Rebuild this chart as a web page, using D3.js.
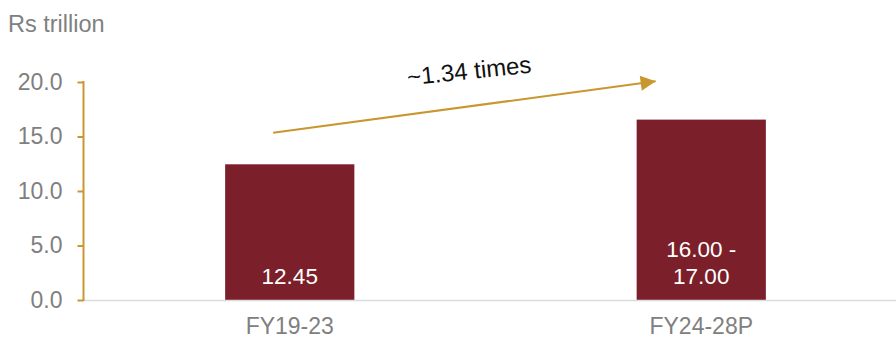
<!DOCTYPE html>
<html lang="en">
<head>
<meta charset="UTF-8">
<title>Rs trillion bar chart</title>
<script src="https://d3js.org/d3.v7.min.js"></script>
<style>
    body { margin: 0; background: #fff; }
    svg text { font-family: "Liberation Sans", Arial, sans-serif; }
    .tick-lbl { fill: #808080; font-size: 23px; }
</style>
</head>
<body>
<div id="chart"></div>
<script>
    // data
    var categories = ["FY19-23", "FY24-28P"];
    var values = [12.45, 16.55];
    var valueLabels = [["12.45"], ["16.00 -", "17.00"]];
    var yTicks = [0, 5, 10, 15, 20];
    var unitLabel = "Rs trillion";
    var growthLabel = "~1.34 times";
    var arrowFrom = 15.34, arrowTo = 20.07;   // y-values of arrow ends

    var width = 896, height = 338;
    var gold = "#c9972f", bar = "#7b1f2a";

    var svg = d3.select("#chart").append("svg")
        .attr("width", width)
        .attr("height", height);

    var x = d3.scaleBand()
        .domain(categories)
        .range([84, 907])
        .paddingInner(0.686)
        .paddingOuter(0.343);

    var y = d3.scaleLinear()
        .domain([0, 20])
        .range([300, 82]);

    /* unit label */
    svg.append("text")
        .attr("class", "tick-lbl")
        .attr("x", 8)
        .attr("y", 32)
        .style("font-size", "23.5px")
        .text(unitLabel);

    /* bars */
    svg.selectAll("rect.bar")
        .data(values)
        .enter().append("rect")
        .attr("class", "bar")
        .attr("x", function(d, i) { return x(categories[i]); })
        .attr("width", x.bandwidth())
        .attr("y", function(d) { return y(d); })
        .attr("height", function(d) { return y(0) - y(d); })
        .attr("fill", bar);

    /* baseline */
    svg.append("line")
        .attr("x1", 84).attr("x2", width)
        .attr("y1", y(0) + 0.5).attr("y2", y(0) + 0.5)
        .attr("stroke", "#dcdcdc")
        .attr("stroke-width", 1.5);

    /* y axis */
    var yAxis = d3.axisLeft(y)
        .tickValues(yTicks)
        .tickSize(6)
        .tickPadding(15)
        .tickFormat(d3.format(".1f"));

    var ga = svg.append("g")
        .attr("transform", "translate(83.5,0)")
        .call(yAxis);
    ga.select(".domain").remove();
    ga.append("line")
        .attr("y1", y(20) - 1).attr("y2", y(0) + 1)
        .attr("stroke", gold).attr("stroke-width", 2);
    ga.selectAll(".tick line").attr("stroke", gold).attr("stroke-width", 2);
    ga.selectAll(".tick text")
        .attr("class", "tick-lbl")
        .attr("font-size", null)
        .attr("font-family", null)
        .style("font-size", "23px");

    /* category labels */
    svg.selectAll("text.cat")
        .data(categories)
        .enter().append("text")
        .attr("class", "tick-lbl cat")
        .attr("text-anchor", "middle")
        .attr("x", function(d) { return x(d) + x.bandwidth() / 2; })
        .attr("y", 334)
        .text(function(d) { return d; });

    /* value labels inside bars, anchored at bottom */
    valueLabels.forEach(function(lines, i) {
        var cx = x(categories[i]) + x.bandwidth() / 2;
        var t = svg.append("text")
            .attr("text-anchor", "middle")
            .attr("fill", "#fff")
            .style("font-size", "22.5px");
        lines.forEach(function(s, j) {
            t.append("tspan")
                .attr("x", cx)
                .attr("y", 284 - (lines.length - 1 - j) * 27.5)
                .text(s);
        });
    });

    /* growth arrow */
    svg.append("defs").append("marker")
        .attr("id", "head")
        .attr("viewBox", "0 0 10 10")
        .attr("refX", 10).attr("refY", 5)
        .attr("markerUnits", "userSpaceOnUse")
        .attr("markerWidth", 17).attr("markerHeight", 15)
        .attr("orient", "auto")
        .append("path")
        .attr("d", "M0,0L10,5L0,10Z")
        .attr("fill", gold);

    var x1 = x(categories[0]) + 48, y1 = y(arrowFrom);
    var x2 = x(categories[1]) + 19, y2 = y(arrowTo);
    svg.append("line")
        .attr("x1", x1).attr("y1", y1)
        .attr("x2", x2).attr("y2", y2)
        .attr("stroke", gold)
        .attr("stroke-width", 2)
        .attr("marker-end", "url(#head)");

    svg.append("text")
        .attr("transform", "translate(470,79) rotate(-6)")
        .attr("text-anchor", "middle")
        .attr("fill", "#111")
        .style("font-size", "24px")
        .text(growthLabel);
</script>
</body>
</html>
